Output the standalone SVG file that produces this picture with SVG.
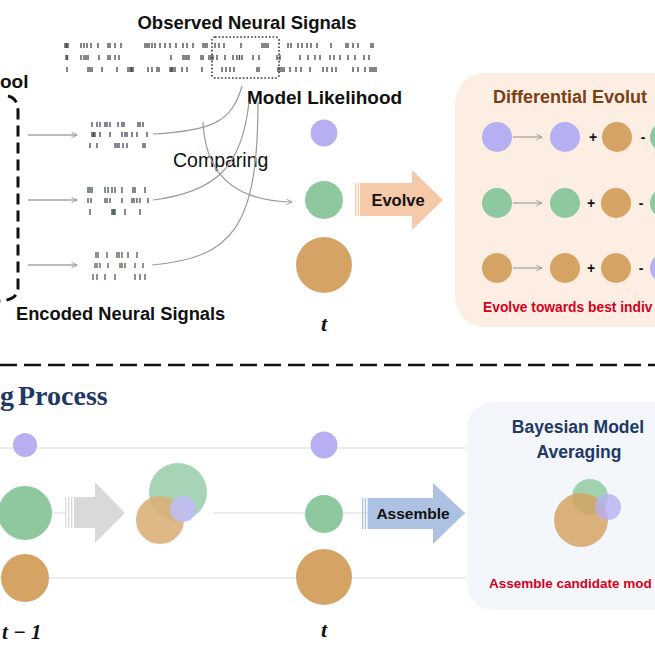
<svg xmlns="http://www.w3.org/2000/svg" width="655" height="655" viewBox="0 0 655 655">
<defs>
<style>
.sans{font-family:"Liberation Sans","Open Sans",Arial,sans-serif;font-weight:bold}
.reg{font-family:"Liberation Sans","Open Sans",Arial,sans-serif}
.math{font-family:"Liberation Serif","DejaVu Serif",serif;font-weight:bold;font-style:italic}
.tick{fill:none;stroke-width:1.35}
.curve{fill:none;stroke:#9a9a9a;stroke-width:1.2}
.garrow{fill:none;stroke:#a6a6a6;stroke-width:1.3}
.hline{stroke:#e6e6e6;stroke-width:1.6}
.pu{fill:#b6b0f2}
.gr{fill:#8dc89e}
.br{fill:#d5a464}
.op{fill:#111;font-family:"Liberation Sans",Arial,sans-serif;font-weight:bold;font-size:14px}
</style>
<marker id="ah" viewBox="0 0 10 10" refX="9" refY="5" markerWidth="7" markerHeight="7" orient="auto" markerUnits="userSpaceOnUse">
<path d="M1,1 L9,5 L1,9" fill="none" stroke="#9a9a9a" stroke-width="1.3"/>
</marker>
</defs>
<rect width="655" height="655" fill="#ffffff"/>

<!-- Observed signals -->
<g id="observed">
<text class="sans" x="247" y="29" font-size="18.5" text-anchor="middle" fill="#111">Observed Neural Signals</text>
<path class="tick" stroke="#4a4a4a" d="M65,43v5M66.5,43v5M68,43v5M81,43v5M84,43v5M87,43v5M91,43v5M98,43v5M108,43v5M110,43v5M115,43v5M121,43v5M145,43v5M147,43v5M149,43v5M152,43v5M155,43v5M160,43v5M165,43v5M170,43v5M176,43v5M183,43v5M187,43v5M193,43v5M203,43v5M205,43v5M207,43v5M215,43v5M219,43v5M224,43v5M241,43v5M262,43v5M264,43v5M266,43v5M268,43v5M288,43v5M291,43v5M298,43v5M302,43v5M307,43v5M311,43v5M317,43v5M331,43v5M346,43v5M348,43v5M353,43v5M358,43v5M371,43v5M373,43v5"/>
<path class="tick" stroke="#4a4a4a" d="M66,55v5M67.5,55v5M81,55v5M84,55v5M86,55v5M88,55v5M99,55v5M108,55v5M110,55v5M115,55v5M119,55v5M171,55v5M183,55v5M185,55v5M187,55v5M189,55v5M201,55v5M203,55v5M209,55v5M211,55v5M213,55v5M217,55v5M225,55v5M233,55v5M237,55v5M239.5,55v5M242,55v5M253,55v5M259,55v5M277,55v5M280,55v5M300,55v5M308,55v5M315,55v5M320,55v5M330,55v5M334,55v5M340,55v5M348,55v5M355,55v5M364,55v5M369,55v5"/>
<path class="tick" stroke="#4a4a4a" d="M67,67v5M88,67v5M90,67v5M92,67v5M102,67v5M117,67v5M128,67v5M130,67v5M131.5,67v5M133,67v5M148,67v5M152,67v5M157,67v5M159,67v5M170,67v5M171.5,67v5M173,67v5M175,67v5M182,67v5M187,67v5M202,67v5M222,67v5M226,67v5M230,67v5M234,67v5M257,67v5M259,67v5M278,67v5M280,67v5M282,67v5M284,67v5M290,67v5M296,67v5M301,67v5M310,67v5M323,67v5M327,67v5M332,67v5M336,67v5M353,67v5M358,67v5M365,67v5M370,67v5M372,67v5M374,67v5M376,67v5"/>
<rect x="212" y="37" width="67" height="41" rx="3" fill="none" stroke="#333" stroke-width="1.6" stroke-dasharray="1.6 2"/>
</g>

<g id="pool">
<text class="sans" x="0" y="88" font-size="19" fill="#111">ool</text>
<path d="M8,96 Q18,98 18,112 V288 Q18,300 0,301" fill="none" stroke="#111" stroke-width="3" stroke-dasharray="11 6"/>
</g>

<!-- Encoded signals -->
<g id="encoded">
<path class="tick" stroke="#4d4968" d="M92,122v5M97,122v5M100,122v5M105,122v5M107,122v5M110,122v5M118,122v5M122,122v5M124,122v5M138,122v5M140,122v5M143,122v5M92,132v5M93.5,132v5M95,132v5M100,132v5M110,132v5M122,132v5M125,132v5M127,132v5M132,132v5M137,132v5M147,132v5M90,143v5M97,143v5M115,143v5M117,143v5M119,143v5M123,143v5M127,143v5M143,143v5M145,143v5"/>
<path class="tick" stroke="#47574a" d="M88,187v6M90,187v6M92,187v6M105,187v6M108,187v6M112,187v6M115,187v6M122,187v6M133,187v6M135,187v6M145,187v6M88,198v5M91,198v5M105,198v5M107,198v5M110,198v5M122,198v5M132,198v5M134,198v5M137,198v5M140,198v5M148,198v5M90,209v6M112,209v6M113.5,209v6M115,209v6M125,209v6M140,209v6"/>
<path class="tick" stroke="#66594a" d="M96,252v6M98,252v6M107,252v6M117,252v6M119,252v6M122,252v6M128,252v6M137,252v6M95,263v5M97,263v5M100,263v5M108,263v5M120,263v5M122,263v5M125,263v5M135,263v5M143,263v5M93,274v6M97,274v6M105,274v6M115,274v6M135,274v6M140,274v6M145,274v6"/>
<text class="sans" x="16" y="320" font-size="18.3" fill="#111">Encoded Neural Signals</text>
</g>

<g id="model-likelihood">
<text class="sans" x="247" y="104" font-size="19" fill="#111">Model Likelihood</text>
<text class="reg" x="173" y="167" font-size="19.5" fill="#111">Comparing</text>
</g>

<!-- connectors -->
<g id="connectors">
<line class="garrow" x1="28" y1="135" x2="77" y2="135" marker-end="url(#ah)"/>
<line class="garrow" x1="28" y1="200" x2="77" y2="200" marker-end="url(#ah)"/>
<line class="garrow" x1="28" y1="265" x2="77" y2="265" marker-end="url(#ah)"/>
<path class="curve" d="M153,134 C212,131 232,122 242,86"/>
<path class="curve" d="M153,200 C215,192 242,168 249,102"/>
<path class="curve" d="M152,265 C232,258 258,228 258,102"/>
<path class="curve" d="M203,122 C205,168 228,201 292,202" marker-end="url(#ah)"/>
<line class="hline" x1="0" y1="448" x2="466" y2="448"/>
<line class="hline" x1="0" y1="513" x2="65" y2="513"/>
<line class="hline" x1="213" y1="513" x2="466" y2="513"/>
<line class="hline" x1="0" y1="578" x2="466" y2="578"/>
</g>

<!-- population at t (top) -->
<g id="pop-t-top">
<circle class="pu" cx="324" cy="133" r="13.5"/>
<circle class="gr" cx="324" cy="200" r="19"/>
<circle class="br" cx="324" cy="265" r="28"/>
<text class="math" x="324" y="331" font-size="22" text-anchor="middle" fill="#111">t</text>
</g>

<g id="evolve-arrow">
<rect x="355" y="183" width="1.3" height="33" fill="#f6c9a8"/>
<rect x="357.6" y="183" width="1.3" height="33" fill="#f6c9a8"/>
<path d="M360,183 H412 V170 L443,200 L412,230 V216 H360 Z" fill="#f6c9a8"/>
<text class="sans" x="398" y="206" font-size="16.5" text-anchor="middle" fill="#111">Evolve</text>
</g>

<g id="differential-evolution">
<rect x="455" y="73" width="240" height="254" rx="30" fill="#fdeee4"/>
<text class="sans" x="493" y="103" font-size="18" fill="#7b3f14">Differential Evolut</text>
<line class="garrow" x1="513" y1="137" x2="542" y2="137" marker-end="url(#ah)"/>
<line class="garrow" x1="513" y1="203" x2="542" y2="203" marker-end="url(#ah)"/>
<line class="garrow" x1="513" y1="268" x2="542" y2="268" marker-end="url(#ah)"/>
<circle class="pu" cx="497" cy="137" r="15"/>
<circle class="pu" cx="565" cy="137" r="15"/>
<text class="op" x="593" y="142" text-anchor="middle">+</text>
<circle class="br" cx="617" cy="137" r="15"/>
<text class="op" x="643" y="142" text-anchor="middle">-</text>
<circle class="gr" cx="665" cy="137" r="15"/>
<circle class="gr" cx="497" cy="203" r="15"/>
<circle class="gr" cx="565" cy="203" r="15"/>
<text class="op" x="591" y="208" text-anchor="middle">+</text>
<circle class="br" cx="616" cy="203" r="15"/>
<text class="op" x="641" y="208" text-anchor="middle">-</text>
<circle class="gr" cx="665" cy="203" r="15"/>
<circle class="br" cx="497" cy="268" r="15"/>
<circle class="br" cx="565" cy="268" r="15"/>
<text class="op" x="591" y="273" text-anchor="middle">+</text>
<circle class="br" cx="616" cy="268" r="15"/>
<text class="op" x="641" y="273" text-anchor="middle">-</text>
<circle class="pu" cx="665" cy="268" r="15"/>
<text class="sans" x="483" y="312" font-size="13.8" fill="#d3001e">Evolve towards best indiv</text>
</g>

<line x1="0" y1="365" x2="655" y2="365" stroke="#111" stroke-width="2.5" stroke-dasharray="17 7"/>

<g id="title-process">
<text y="405" font-family="Liberation Serif,Times New Roman,serif" font-weight="bold" font-size="28" fill="#1f3864"><tspan x="0">g</tspan><tspan x="18">Process</tspan></text>
</g>

<g id="pop-t-1">
<circle class="pu" cx="25" cy="445" r="12"/>
<circle class="gr" cx="25" cy="513" r="27"/>
<circle class="br" cx="25" cy="578" r="24"/>
<text class="math" x="2" y="639" font-size="21" fill="#111">t − 1</text>
</g>

<g id="gray-arrow">
<rect x="65" y="497" width="1.3" height="31" fill="#d9d9d9"/>
<rect x="68" y="497" width="1.3" height="31" fill="#d9d9d9"/>
<rect x="71" y="497" width="1.3" height="31" fill="#d9d9d9"/>
<path d="M74,497 H95 V482 L125,513 L95,543 V528 H74 Z" fill="#d9d9d9"/>
</g>

<g id="merged-left" opacity="0.85">
<circle class="gr" cx="178" cy="492" r="29" opacity="0.9"/>
<circle class="br" cx="160" cy="520" r="24" opacity="0.9"/>
<circle class="pu" cx="183" cy="509" r="13" opacity="0.9"/>
</g>

<g id="pop-t-bottom">
<circle class="pu" cx="324" cy="445" r="13.5"/>
<circle class="gr" cx="324" cy="514" r="19"/>
<circle class="br" cx="324" cy="577" r="28"/>
<text class="math" x="324" y="637" font-size="22" text-anchor="middle" fill="#111">t</text>
</g>

<g id="assemble-arrow">
<rect x="362" y="498" width="1.3" height="31" fill="#adc2e2"/>
<rect x="364.8" y="498" width="1.3" height="31" fill="#adc2e2"/>
<path d="M367.6,498 H433 V483 L465,513 L433,544 V529 H367.6 Z" fill="#adc2e2"/>
<text class="sans" x="413" y="519" font-size="15.5" text-anchor="middle" fill="#111">Assemble</text>
</g>

<g id="bayesian-model-averaging">
<rect x="467" y="402" width="230" height="208" rx="26" fill="#f3f6fb"/>
<text class="sans" x="578" y="433" font-size="17.5" text-anchor="middle" fill="#1f3864">Bayesian Model</text>
<text class="sans" x="579" y="458" font-size="17.5" text-anchor="middle" fill="#1f3864">Averaging</text>
<circle class="gr" cx="590" cy="497" r="18" opacity="0.8"/>
<circle class="br" cx="581" cy="520" r="27" opacity="0.85"/>
<circle class="pu" cx="608" cy="507" r="13" opacity="0.8"/>
<text class="sans" x="489" y="588" font-size="13.5" fill="#d3001e">Assemble candidate mod</text>
</g>
</svg>
